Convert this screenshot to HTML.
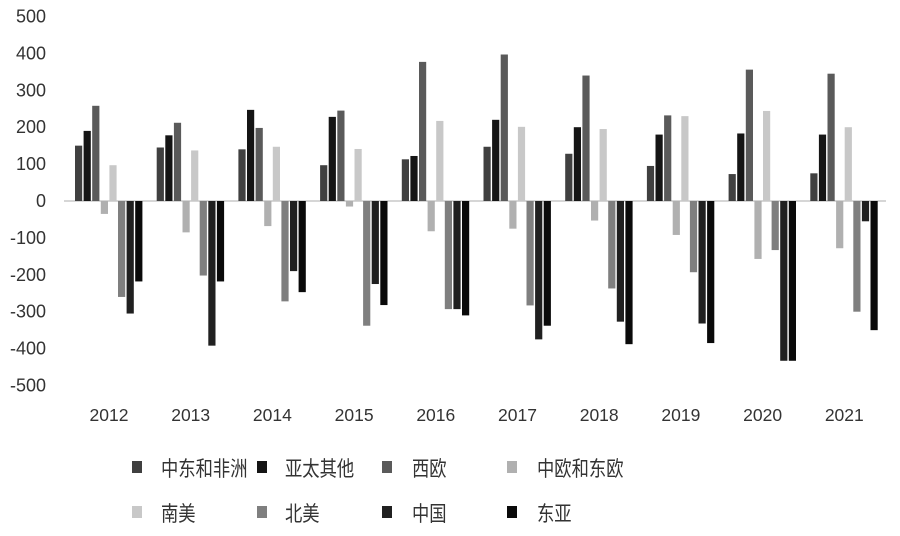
<!DOCTYPE html>
<html><head><meta charset="utf-8"><style>
body{margin:0;background:#fff}
svg text{font-family:"Liberation Sans","Noto Sans CJK SC",sans-serif;fill:#333}
</style></head><body>
<svg width="900" height="531" xmlns="http://www.w3.org/2000/svg">
<g font-size="18" text-anchor="end" id="yl"></g>
<line x1="64" y1="201" x2="886" y2="201" stroke="#c8c8c8" stroke-width="1.5"/>
<g id="bars"></g>
<g font-size="17.5" text-anchor="middle" id="xl"></g>
<g font-size="21" id="lg"></g>
</svg>
<script>
const ns="http://www.w3.org/2000/svg";
const data=[[150,190,258,-35,97,-260,-305,-218],[145,178,212,-85,137,-202,-392,-218],[140,247,198,-68,147,-272,-190,-247],[97,228,245,-15,141,-338,-225,-282],[113,122,377,-82,217,-293,-293,-310],[147,220,397,-75,201,-283,-375,-338],[128,200,340,-53,195,-237,-327,-388],[95,180,232,-92,230,-193,-332,-385],[73,183,356,-157,244,-133,-433,-433],[75,180,345,-128,200,-300,-55,-350]];
const cols=["#404040","#151515","#5a5a5a","#b0b0b0","#c8c8c8","#7f7f7f","#202020","#0a0a0a"];
const names=["中东和非洲","亚太其他","西欧","中欧和东欧","南美","北美","中国","东亚"];
const k=0.369,z=201;
function el(t,a,p,txt){const e=document.createElementNS(ns,t);for(const x in a)e.setAttribute(x,a[x]);if(txt!==undefined)e.textContent=txt;document.getElementById(p).appendChild(e);}
for(let v=500;v>=-500;v-=100)el("text",{x:46,y:z-v*k+6},"yl",v);
data.forEach((g,i)=>{const x0=75+i*81.7;g.forEach((v,j)=>{const h=Math.abs(v)*k;el("rect",{x:x0+j*8.6,y:v>0?z-h:z,width:7.2,height:h,fill:cols[j]},"bars");});el("text",{x:x0+34,y:421},"xl",2012+i);});
const lx=[132,257,382,507],tx=[161,285,412,537];
names.forEach((n,i)=>{const r=Math.floor(i/4),c=i%4,y=r?513:468;el("rect",{x:lx[c],y:y-7,width:10,height:12,fill:cols[i]},"lg");el("text",{x:tx[c],y:y+8,textLength:17.3*n.length,lengthAdjust:"spacingAndGlyphs"},"lg",n);});
</script>
</body></html>
